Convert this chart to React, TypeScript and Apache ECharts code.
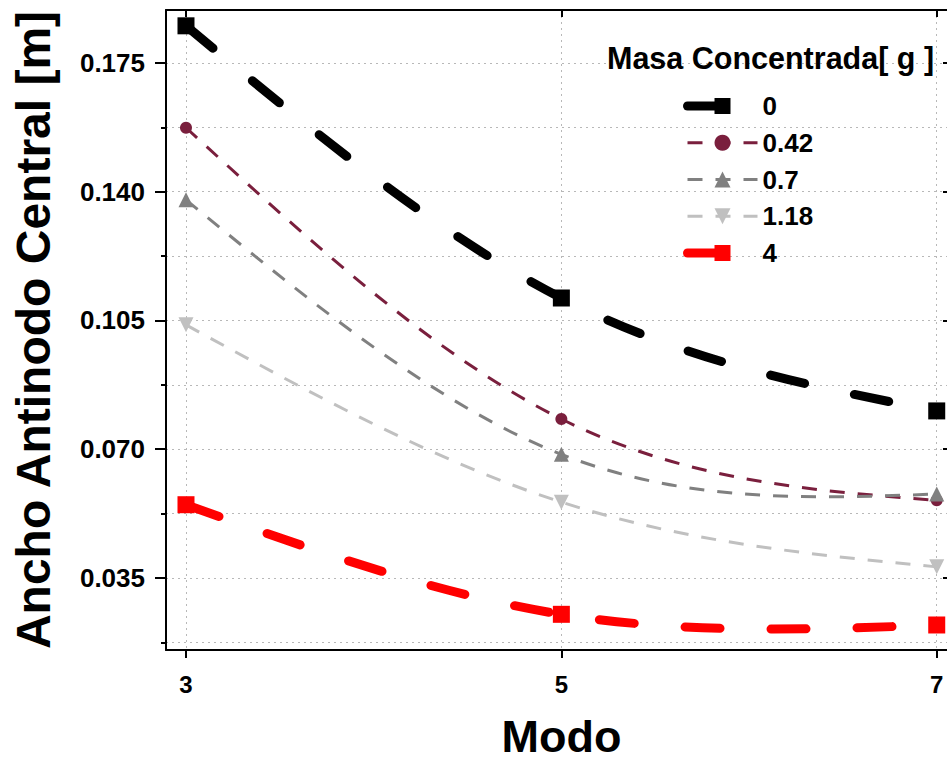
import React, { useEffect, useRef } from "react";
import * as echarts from "echarts";

// ---- data ----
const modes = [3, 5, 7];
const seriesNames = ["0", "0.42", "0.7", "1.18", "4"];
const mass0 = [0.1851, 0.1111, 0.0804];
const mass042 = [0.1574, 0.0782, 0.0561];
const mass07 = [0.1378, 0.0686, 0.0578];
const mass118 = [0.1038, 0.0556, 0.038];
const mass4 = [0.0549, 0.0251, 0.0222];
const yMajorTicks = [0.035, 0.07, 0.105, 0.14, 0.175];
const yMinorTicks = [0.0175, 0.0525, 0.0875, 0.1225, 0.1575];
const xTicks = [3, 5, 7];

const FONT = "'Liberation Sans', Arial, Helvetica, sans-serif";
const Y_MIN = 0.0154;
const Y_MAX = 0.1894;
const X_MIN = 2.8935;
const X_MAX = 7.108;

const dotted = { show: true, lineStyle: { type: [2, 4] as any, color: "#b8b8b8", width: 1 } };
const axisLineStyle = { color: "#000", width: 2 };

// style of each series (not data)
const styles = [
  { color: "#000000", width: 9, dash: [35, 51], cap: "round", symbol: "rect", size: 17, rot: 0 },
  { color: "#7a1f3d", width: 3, dash: [15, 13], cap: "butt", symbol: "circle", size: 12, rot: 0 },
  { color: "#808080", width: 3, dash: [15, 13], cap: "butt", symbol: "triangle", size: 15, rot: 0 },
  { color: "#c0c0c0", width: 3, dash: [15, 13], cap: "butt", symbol: "triangle", size: 15, rot: 180 },
  { color: "#ff0000", width: 9, dash: [35, 51], cap: "round", symbol: "rect", size: 17, rot: 0 },
];
const allValues = [mass0, mass042, mass07, mass118, mass4];

function pairs(vals: number[]) {
  return modes.map((x, i) => [x, vals[i]]);
}

// natural cubic spline through the pixel positions of the points, as cubic Bezier segments
function splinePath(pts: number[][]): string {
  const n = pts.length;
  if (n < 2) return "";
  const X = pts.map((p) => p[0]);
  const Y = pts.map((p) => p[1]);
  const h: number[] = [];
  for (let i = 0; i < n - 1; i++) h.push(X[i + 1] - X[i]);
  const M = new Array(n).fill(0);
  if (n > 2) {
    const a: number[] = [], b: number[] = [], c: number[] = [], d: number[] = [];
    for (let i = 1; i < n - 1; i++) {
      a.push(h[i - 1]);
      b.push(2 * (h[i - 1] + h[i]));
      c.push(h[i]);
      d.push(6 * ((Y[i + 1] - Y[i]) / h[i] - (Y[i] - Y[i - 1]) / h[i - 1]));
    }
    const m = b.length;
    for (let i = 1; i < m; i++) {
      const w = a[i] / b[i - 1];
      b[i] -= w * c[i - 1];
      d[i] -= w * d[i - 1];
    }
    const sol = new Array(m).fill(0);
    sol[m - 1] = d[m - 1] / b[m - 1];
    for (let i = m - 2; i >= 0; i--) sol[i] = (d[i] - c[i] * sol[i + 1]) / b[i];
    for (let i = 0; i < m; i++) M[i + 1] = sol[i];
  }
  let path = `M${X[0]} ${Y[0]}`;
  for (let i = 0; i < n - 1; i++) {
    const hi = h[i];
    const slope = (Y[i + 1] - Y[i]) / hi;
    const d0 = slope - (hi * (2 * M[i] + M[i + 1])) / 6;
    const d1 = slope + (hi * (M[i] + 2 * M[i + 1])) / 6;
    const c1x = X[i] + hi / 3, c1y = Y[i] + (hi / 3) * d0;
    const c2x = X[i + 1] - hi / 3, c2y = Y[i + 1] - (hi / 3) * d1;
    path += ` C${c1x} ${c1y} ${c2x} ${c2y} ${X[i + 1]} ${Y[i + 1]}`;
  }
  return path;
}

export default function App() {
  const ref = useRef<HTMLDivElement>(null);
  useEffect(() => {
    document.documentElement.style.margin = "0";
    document.documentElement.style.overflow = "hidden";
    document.body.style.margin = "0";
    document.body.style.overflow = "hidden";
    if (!ref.current) return;
    const chart = echarts.init(ref.current, undefined, { renderer: "svg", width: 947, height: 764 });

    const series: any[] = [];
    seriesNames.forEach((name, k) => {
      const s = styles[k];
      const vals = allValues[k];
      series.push({
        name: "curve " + name,
        type: "custom",
        xAxisIndex: 0,
        yAxisIndex: 0,
        silent: true,
        clip: false,
        data: pairs(vals),
        encode: { x: 0, y: 1 },
        renderItem: (params: any, api: any) => {
          if (params.dataIndex !== 0) return null;
          const pts = modes.map((x, i) => api.coord([x, vals[i]]));
          return {
            type: "path",
            shape: { pathData: splinePath(pts) },
            style: {
              fill: "none",
              stroke: s.color,
              lineWidth: s.width,
              lineDash: s.dash,
              lineCap: s.cap,
              lineJoin: "round",
            },
          };
        },
      });
      series.push({
        name,
        type: "line",
        xAxisIndex: 0,
        yAxisIndex: 0,
        data: pairs(vals),
        symbol: s.symbol,
        symbolSize: s.size,
        symbolRotate: s.rot,
        itemStyle: { color: s.color },
        lineStyle: { color: s.color, width: s.width, type: s.dash, cap: s.cap, opacity: 0 },
      });
    });

    const option: any = {
      animation: false,
      backgroundColor: "#fff",
      title: {
        text: "Masa Concentrada[ g ]",
        left: 607,
        top: 42,
        padding: 0,
        textStyle: { fontSize: 30.5, fontWeight: "bold", color: "#000", fontFamily: FONT },
      },
      legend: {
        orient: "vertical",
        left: 683,
        top: 93,
        padding: 0,
        itemWidth: 70,
        itemHeight: 20,
        itemGap: 10.75,
        data: seriesNames.map((n, k) => ({
          name: n,
          lineStyle: {
            color: styles[k].color,
            width: styles[k].width,
            type: styles[k].dash,
            cap: styles[k].cap,
            opacity: 1,
          },
        })),
        textStyle: {
          fontSize: 26,
          fontWeight: "bold",
          color: "#000",
          fontFamily: FONT,
          lineHeight: 26,
        },
      },
      grid: {
        left: 166,
        top: 10,
        width: 791,
        height: 640,
        containLabel: false,
        outerBoundsMode: "none",
      },
      xAxis: [
        {
          type: "value",
          position: "bottom",
          min: X_MIN,
          max: X_MAX,
          axisLine: { show: true, lineStyle: axisLineStyle },
          axisTick: { show: true, customValues: xTicks, length: 8, lineStyle: axisLineStyle },
          axisLabel: {
            customValues: xTicks,
            margin: 22,
            fontSize: 24,
            fontWeight: "bold",
            color: "#000",
            fontFamily: FONT,
          },
          splitLine: dotted,
          name: "Modo",
          nameLocation: "middle",
          nameGap: 68,
          nameTextStyle: {
            fontSize: 45,
            lineHeight: 36,
            fontWeight: "bold",
            color: "#000",
            fontFamily: FONT,
          },
        },
        {
          type: "value",
          position: "top",
          min: X_MIN,
          max: X_MAX,
          axisLine: { show: true, lineStyle: axisLineStyle },
          axisTick: { show: true, inside: true, customValues: xTicks, length: 7, lineStyle: axisLineStyle },
          axisLabel: { show: false },
          splitLine: { show: false },
        },
      ],
      yAxis: [
        {
          type: "value",
          position: "left",
          min: Y_MIN,
          max: Y_MAX,
          axisLine: { show: true, lineStyle: axisLineStyle },
          axisTick: { show: true, customValues: yMajorTicks, length: 11, lineStyle: axisLineStyle },
          axisLabel: {
            customValues: yMajorTicks,
            formatter: (v: number) => v.toFixed(3),
            margin: 21,
            fontSize: 26,
            fontWeight: "bold",
            color: "#000",
            fontFamily: FONT,
          },
          splitLine: dotted,
          name: "Ancho Antinodo Central [m]",
          nameLocation: "middle",
          nameGap: 109,
          nameTextStyle: { fontSize: 48, fontWeight: "bold", color: "#000", fontFamily: FONT },
        },
        {
          type: "value",
          position: "left",
          min: Y_MIN,
          max: Y_MAX,
          axisLine: { show: false },
          axisTick: { show: true, customValues: yMinorTicks, length: 5, lineStyle: axisLineStyle },
          axisLabel: { show: false },
          splitLine: dotted,
        },
        {
          type: "value",
          position: "right",
          min: Y_MIN,
          max: Y_MAX,
          axisLine: { show: true, lineStyle: axisLineStyle },
          axisTick: { show: true, inside: true, customValues: yMajorTicks, length: 14, lineStyle: axisLineStyle },
          axisLabel: { show: false },
          splitLine: { show: false },
        },
      ],
      series,
    };
    chart.setOption(option);
    return () => chart.dispose();
  }, []);
  return (
    <div
      ref={ref}
      style={{ position: "fixed", left: 0, top: 0, width: 947, height: 764, overflow: "hidden" }}
    />
  );
}
